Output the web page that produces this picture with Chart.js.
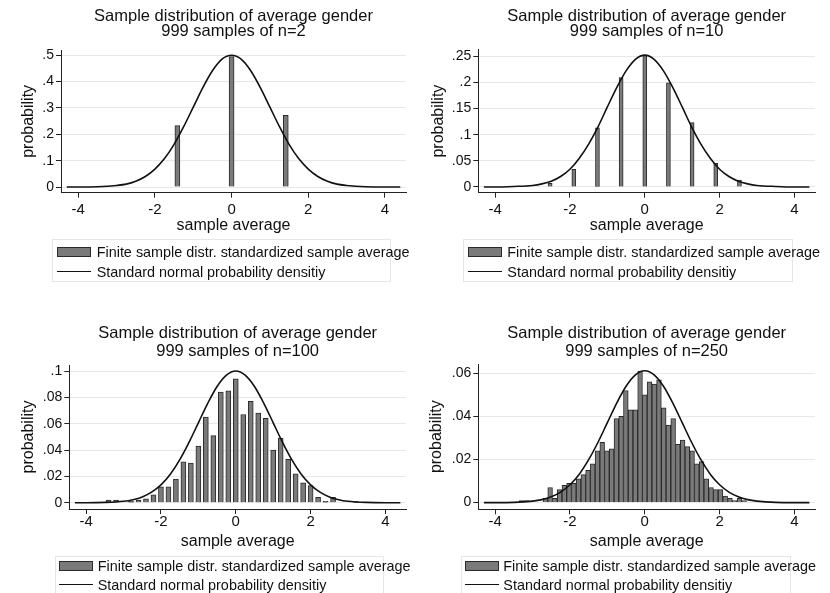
<!DOCTYPE html>
<html>
<head>
<meta charset="utf-8">
<script src="https://cdn.jsdelivr.net/npm/chart.js@4.4.1/dist/chart.umd.min.js"></script>
<style>
  html, body { margin: 0; padding: 0; background: #fff; }
  body { width: 830px; height: 593px; position: relative; overflow: hidden;
         font-family: "Liberation Sans", Arial, sans-serif; color: #111; }
  canvas { position: absolute; }
  .title { position: absolute; white-space: nowrap; font-size: 16.5px; line-height: 18px; transform: translateX(-50%); }
  .legend { position: absolute; border: 1px solid #e6e6e6; box-sizing: border-box; }
  .legend-text { position: absolute; white-space: nowrap; font-size: 14.4px; line-height: 16px; }
  .sw-bar { position: absolute; width: 34px; height: 10px; background: #7a7a7a; border: 1px solid #2b2b2b; box-sizing: border-box; }
  .sw-line { position: absolute; width: 34px; height: 0; border-top: 1.5px solid #111; }
</style>
</head>
<body>
<script>
// text
const mainTitle = "Sample distribution of average gender";
const barLabel = "Finite sample distr. standardized sample average";
const curveLabel = "Standard normal probability densitiy";

// axis ticks
const xTicks = [-4, -2, 0, 2, 4];
const yTicks2 = [0, 0.1, 0.2, 0.3, 0.4, 0.5];
const yTicks10 = [0, 0.05, 0.1, 0.15, 0.2, 0.25];
const yTicks100 = [0, 0.02, 0.04, 0.06, 0.08, 0.1];
const yTicks250 = [0, 0.02, 0.04, 0.06];

// finite sample distributions
const barX2 = [-1.414, 0, 1.414];
const barY2 = [0.233, 0.495, 0.272];

const barX10 = [-3.162, -2.53, -1.897, -1.265, -0.632, 0, 0.632, 1.265, 1.897, 2.53, 3.162];
const barY10 = [0.001, 0.007, 0.034, 0.113, 0.209, 0.251, 0.199, 0.123, 0.045, 0.013, 0.001];

const barX100 = [-3.4, -3.2, -2.8, -2.6, -2.4, -2.2, -2, -1.8, -1.6, -1.4, -1.2, -1, -0.8, -0.6, -0.4, -0.2,
                 0, 0.2, 0.4, 0.6, 0.8, 1, 1.2, 1.4, 1.6, 1.8, 2, 2.2, 2.4, 2.6, 3.2];
const barY100 = [0.002, 0.002, 0.001, 0.002, 0.003, 0.006, 0.012, 0.012, 0.018, 0.031, 0.03, 0.043, 0.065, 0.051, 0.084, 0.085,
                 0.094, 0.067, 0.077, 0.068, 0.064, 0.04, 0.049, 0.033, 0.022, 0.015, 0.013, 0.004, 0.001, 0.004, 0.001];

const barX250 = [-3.289, -3.162, -2.656, -2.53, -2.403, -2.277, -2.15, -2.024, -1.897, -1.771, -1.644, -1.518,
                 -1.391, -1.265, -1.138, -1.012, -0.885, -0.759, -0.632, -0.506, -0.379, -0.253, -0.126,
                 0, 0.126, 0.253, 0.379, 0.506, 0.632, 0.759, 0.885, 1.012, 1.138, 1.265, 1.391, 1.518,
                 1.644, 1.771, 1.897, 2.024, 2.15, 2.277, 2.403, 2.53, 2.656];
const barY250 = [0.001, 0.001, 0.002, 0.007, 0.002, 0.006, 0.008, 0.009, 0.009, 0.011, 0.013, 0.015,
                 0.018, 0.024, 0.028, 0.024, 0.025, 0.039, 0.04, 0.052, 0.043, 0.043, 0.061,
                 0.05, 0.056, 0.055, 0.057, 0.044, 0.036, 0.039, 0.027, 0.029, 0.026, 0.024, 0.018, 0.019,
                 0.011, 0.007, 0.006, 0.006, 0.003, 0.002, 0.001, 0.002, 0.001];

// normal density curves
const curveX = [-4.3, -4, -3.5, -3, -2.75, -2.5, -2.25, -2, -1.75, -1.5, -1.25, -1, -0.75, -0.5, -0.25, 0,
                0.25, 0.5, 0.75, 1, 1.25, 1.5, 1.75, 2, 2.25, 2.5, 2.75, 3, 3.5, 4, 4.4];
const curveY2 = [0, 0, 0.001, 0.006, 0.011, 0.022, 0.04, 0.068, 0.108, 0.162, 0.229, 0.303, 0.377, 0.441, 0.485, 0.5,
                 0.485, 0.441, 0.377, 0.303, 0.229, 0.162, 0.108, 0.068, 0.04, 0.022, 0.011, 0.006, 0.001, 0, 0];
const curveY10 = [0, 0, 0.001, 0.003, 0.006, 0.011, 0.02, 0.034, 0.055, 0.082, 0.115, 0.153, 0.19, 0.222, 0.244, 0.252,
                  0.244, 0.222, 0.19, 0.153, 0.115, 0.082, 0.055, 0.034, 0.02, 0.011, 0.006, 0.003, 0.001, 0, 0];
const curveY100 = [0, 0, 0.0002, 0.0011, 0.0023, 0.0044, 0.008, 0.0135, 0.0216, 0.0325, 0.0458, 0.0607, 0.0755, 0.0883, 0.0969, 0.1,
                   0.0969, 0.0883, 0.0755, 0.0607, 0.0458, 0.0325, 0.0216, 0.0135, 0.008, 0.0044, 0.0023, 0.0011, 0.0002, 0, 0];
const curveY250 = [0, 0, 0.0001, 0.0007, 0.0014, 0.0027, 0.0049, 0.0083, 0.0132, 0.0199, 0.028, 0.0371, 0.0462, 0.054, 0.0593, 0.0612,
                   0.0593, 0.054, 0.0462, 0.0371, 0.028, 0.0199, 0.0132, 0.0083, 0.0049, 0.0027, 0.0014, 0.0007, 0.0001, 0, 0];

Chart.defaults.font.family = '"Liberation Sans", Arial, sans-serif';
Chart.defaults.color = "#111";

const PANEL_W = 415, PANEL_H = 296, AXIS_H = 50;

// layout of each panel in page pixels
const panels = [
  { n: 2, barX: barX2, barY: barY2, curveY: curveY2, yTicks: yTicks2, yMin: -0.0216, yMax: 0.52, barWidth: 5,
    origin: { left: 0, top: 0 }, area: { left: 61, top: 50, right: 406, bottom: 192.7 },
    titleY: [15.2, 30.2], yTitleX: 29, xTickMid: 209.5, xTitleMid: 225.5,
    legend: { left: 52, top: 239, width: 339, height: 43, rows: [252.3, 271.7], swatch: 56.7, text: 96.7 } },
  { n: 10, barX: barX10, barY: barY10, curveY: curveY10, yTicks: yTicks10, yMin: -0.0109, yMax: 0.2628, barWidth: 4,
    origin: { left: 415, top: 0 }, area: { left: 478.3, top: 49.5, right: 815, bottom: 192.7 },
    titleY: [15.2, 30.2], yTitleX: 438.3, xTickMid: 209.5, xTitleMid: 225.5,
    legend: { left: 463.3, top: 239, width: 330, height: 43, rows: [252.3, 271.7], swatch: 467.7, text: 507.3 } },
  { n: 100, barX: barX100, barY: barY100, curveY: curveY100, yTicks: yTicks100, yMin: -0.0048, yMax: 0.1046, barWidth: 5,
    origin: { left: 0, top: 297 }, area: { left: 69.3, top: 365, right: 406, bottom: 509 },
    titleY: [332.2, 350.2], yTitleX: 28.8, xTickMid: 521.5, xTitleMid: 541.3,
    legend: { left: 55, top: 556, width: 329, height: 43, rows: [565.7, 584.7], swatch: 59.3, text: 97.7 } },
  { n: 250, barX: barX250, barY: barY250, curveY: curveY250, yTicks: yTicks250, yMin: -0.0031, yMax: 0.0643, barWidth: 4.72,
    origin: { left: 415, top: 297 }, area: { left: 478.3, top: 364, right: 815, bottom: 509.3 },
    titleY: [332.2, 350.2], yTitleX: 436.7, xTickMid: 521.5, xTitleMid: 541.3,
    legend: { left: 461, top: 556, width: 330, height: 43, rows: [565.7, 584.7], swatch: 465, text: 503.3 } },
];

function addDiv(cls, styles, text) {
  const d = document.createElement("div");
  d.className = cls;
  Object.assign(d.style, styles);
  if (text) d.textContent = text;
  document.body.appendChild(d);
  return d;
}

function formatStata(v) {
  if (v === 0) return "0";
  return String(v).replace(/^0\./, ".");
}

function makePanel(p) {
  const a = p.area, o = p.origin;
  const canvas = document.createElement("canvas");
  canvas.width = PANEL_W;
  canvas.height = PANEL_H;
  canvas.style.left = o.left + "px";
  canvas.style.top = o.top + "px";
  document.body.appendChild(canvas);

  const chart = new Chart(canvas, {
    type: "bar",
    data: {
      datasets: [
        {
          type: "bar",
          label: barLabel,
          data: p.barX.map((x, i) => ({ x, y: p.barY[i] })),
          backgroundColor: "#7a7a7a",
          borderColor: "#2b2b2b",
          borderWidth: 1,
          barThickness: p.barWidth,
          order: 1,
        },
        {
          type: "line",
          label: curveLabel,
          data: curveX.map((x, i) => ({ x, y: p.curveY[i] })),
          borderColor: "#111",
          borderWidth: 1.6,
          pointRadius: 0,
          cubicInterpolationMode: "monotone",
          fill: false,
          order: 0,
        },
      ],
    },
    options: {
      responsive: false,
      animation: false,
      events: [],
      layout: {
        padding: {
          top: a.top - o.top,
          right: o.left + PANEL_W - a.right,
          bottom: PANEL_H - (a.bottom - o.top) - AXIS_H,
          left: 0,
        },
      },
      plugins: { legend: { display: false }, title: { display: false }, tooltip: { enabled: false } },
      scales: {
        x: {
          type: "linear",
          min: -4.45,
          max: 4.55,
          offset: false,
          afterBuildTicks: (s) => { s.ticks = xTicks.map((v) => ({ value: v })); },
          afterFit: (s) => { s.height = AXIS_H; },
          grid: { drawOnChartArea: false, drawTicks: true, tickLength: 5, tickColor: "#222", offset: false },
          border: { display: true, color: "#222", width: 1 },
          ticks: { font: { size: 15 }, padding: p.xTickMid - a.bottom - 5 - 9, maxRotation: 0, autoSkip: false },
          title: {
            display: true,
            text: "sample average",
            font: { size: 16 },
            padding: { top: 0, bottom: a.bottom + AXIS_H - 9.6 - p.xTitleMid },
          },
        },
        y: {
          min: p.yMin,
          max: p.yMax,
          afterBuildTicks: (s) => { s.ticks = p.yTicks.map((v) => ({ value: v })); },
          afterFit: (s) => { s.width = a.left - o.left; },
          grid: { color: "#e8e8e8", lineWidth: 1, drawTicks: true, tickLength: 5, tickColor: "#222" },
          border: { display: true, color: "#222", width: 1 },
          ticks: { font: { size: 14 }, padding: 2, callback: (v) => formatStata(v) },
          title: {
            display: true,
            text: "probability",
            font: { size: 16 },
            padding: { top: p.yTitleX - o.left - 9.6, bottom: 0 },
          },
        },
      },
    },
  });

  // two-line title centred over the plot region
  const cx = (a.left + a.right) / 2;
  [mainTitle, `999 samples of n=${p.n}`].forEach((t, i) => {
    addDiv("title", { left: cx + "px", top: p.titleY[i] - 9 + "px" }, t);
  });

  // legend built from the chart's datasets
  const L = p.legend;
  addDiv("legend", { left: L.left + "px", top: L.top + "px", width: L.width + "px", height: L.height + "px" });
  chart.data.datasets.forEach((ds, i) => {
    const y = L.rows[i];
    if (ds.type === "bar") {
      addDiv("sw-bar", { left: L.swatch + "px", top: y - 5 + "px" });
    } else {
      addDiv("sw-line", { left: L.swatch + "px", top: y - 0.75 + "px" });
    }
    addDiv("legend-text", { left: L.text + "px", top: y - 8 + "px" }, ds.label);
  });
}

panels.forEach(makePanel);
</script>
</body>
</html>
